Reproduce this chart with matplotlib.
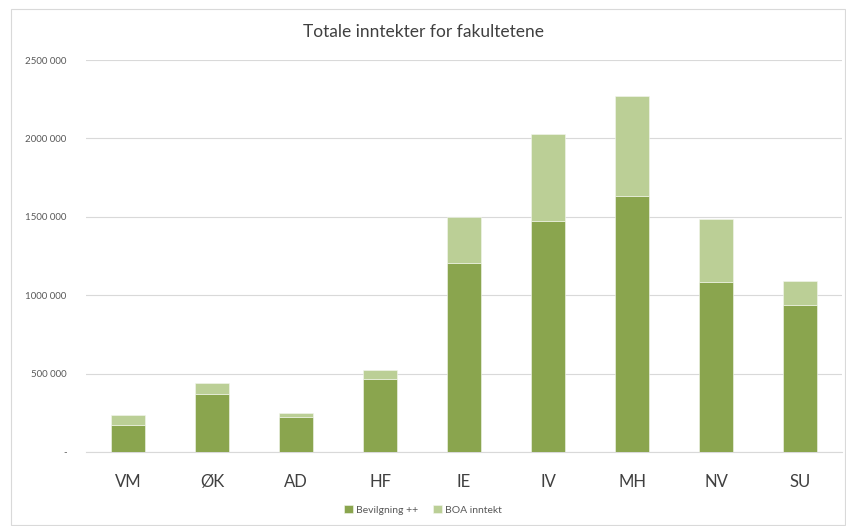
import matplotlib
matplotlib.use("Agg")
import matplotlib.pyplot as plt
from matplotlib.patches import Rectangle

plt.rcParams['font.family'] = ['Lato', 'DejaVu Sans']

fakulteter = ["VM", "ØK", "AD", "HF", "IE", "IV", "MH", "NV", "SU"]
bevilgning = [172000, 372000, 223000, 466000, 1205000, 1473000, 1631000, 1082000, 939000]
boa = [66000, 66000, 26000, 55000, 294000, 553000, 639000, 402000, 150000]
yticks = [0, 500000, 1000000, 1500000, 2000000, 2500000]
ylabels = ["-", "500 000", "1000 000", "1500 000", "2000 000", "2500 000"]

dark = "#8aa54e"
light = "#bbcf96"

fig = plt.figure(figsize=(8.46, 5.26), dpi=100)
# chart border
fig.patches.append(Rectangle((11 / 846, 1 / 526), 834 / 846, 516 / 526, transform=fig.transFigure,
                             fill=False, edgecolor="#d9d9d9", linewidth=0.8))

ax = fig.add_axes([86 / 846, (526 - 452) / 526, (842 - 86) / 846, (452 - 60) / 526])
x = range(len(fakulteter))
ax.bar(x, bevilgning, width=0.4, color=dark, edgecolor="#f4f7ee", linewidth=0.4,
       label="Bevilgning ++", zorder=3)
ax.bar(x, boa, width=0.4, bottom=bevilgning, color=light, edgecolor="#f4f7ee", linewidth=0.4,
       label="BOA inntekt", zorder=3)

ax.set_xlim(-0.5, len(fakulteter) - 0.5)
ax.set_ylim(0, 2500000)
ax.set_yticks(yticks)
ax.set_yticklabels(ylabels, fontsize=7, color="#595959")
ax.set_xticks(list(x))
ax.set_xticklabels(fakulteter, fontsize=12, color="#404040")
ax.tick_params(length=0)
ax.tick_params(axis="y", pad=14)
ax.tick_params(axis="x", pad=16)
ax.grid(axis="y", color="#d9d9d9", linewidth=0.8, zorder=0)
for s in ["top", "right", "left"]:
    ax.spines[s].set_visible(False)
ax.spines["bottom"].set_color("#d9d9d9")
ax.spines["bottom"].set_linewidth(0.8)

fig.text(0.5, 1 - 32 / 526, "Totale inntekter for fakultetene", ha="center", va="center",
         fontsize=12.5, color="#404040")

fig.legend(loc="center", bbox_to_anchor=(0.5, 1 - 510 / 526), ncol=2, frameon=False,
           fontsize=7.5, handlelength=0.8, handleheight=0.8, handletextpad=0.3,
           columnspacing=1.5, labelcolor="#595959")

fig.savefig("out.png", dpi=100)
